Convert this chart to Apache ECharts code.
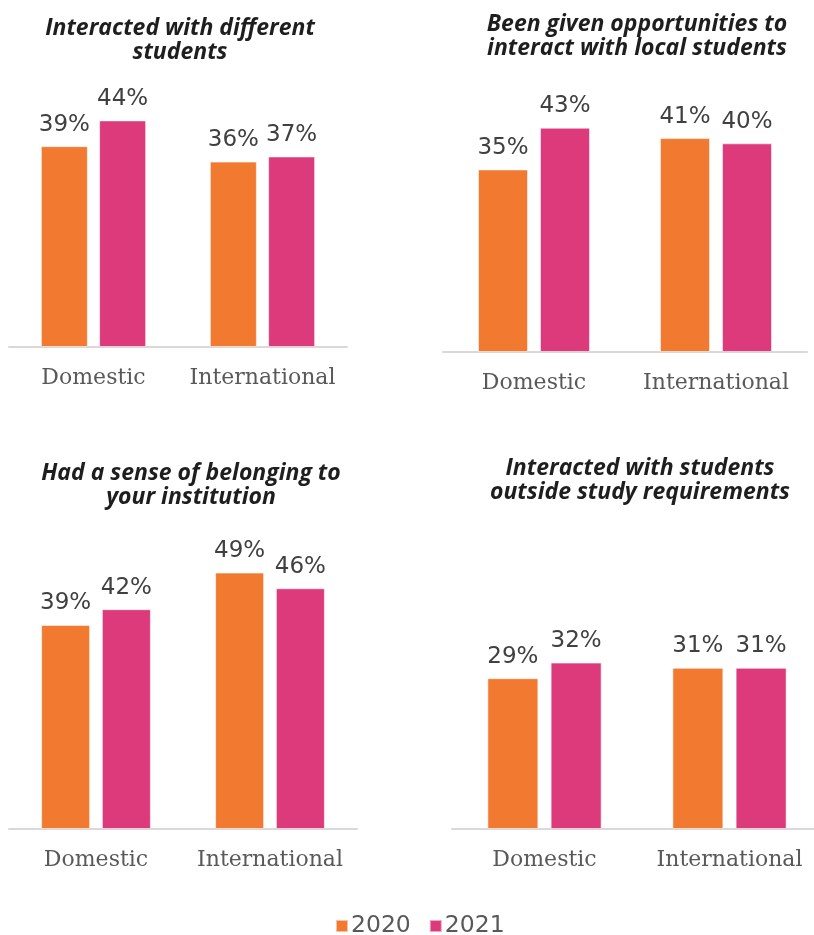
<!DOCTYPE html>
<html>
<head>
<meta charset="utf-8">
<script src="https://cdn.jsdelivr.net/npm/echarts@6/dist/echarts.min.js"></script>
<style>
html,body{margin:0;padding:0;background:#fff;overflow:hidden;}
#main{width:830px;height:935px;}
</style>
</head>
<body>
<div id="main"></div>
<script>
const categories = ['Domestic', 'International'];
const panelTitles = [
  'Interacted with different\nstudents',
  'Been given opportunities to\ninteract with local students',
  'Had a sense of belonging to\nyour institution',
  'Interacted with students\noutside study requirements'
];
const years = ['2020', '2021'];
const values2020 = [[39, 36], [35, 41], [39, 49], [29, 31]];
const values2021 = [[44, 37], [43, 40], [42, 46], [32, 31]];

const colors = ['#F27A30', '#DD3A7B'];
const layout = [
  { left: 9, right: 483, top: 38, bottom: 588, barW: 47, titleX: 175, titleY: 11 },
  { left: 443, right: 23, top: 39, bottom: 583, barW: 50, titleX: 632, titleY: 7 },
  { left: 9, right: 473, top: 515, bottom: 106, barW: 49, titleX: 186, titleY: 456 },
  { left: 452, right: 8, top: 517, bottom: 106, barW: 51, titleX: 635, titleY: 451 }
];

const grids = [], xAxes = [], yAxes = [], series = [], titles = [];
layout.forEach((L, i) => {
  grids.push({ left: L.left, right: L.right, top: L.top, bottom: L.bottom, containLabel: false });
  xAxes.push({
    type: 'category', gridIndex: i, data: categories,
    axisLine: { show: true, lineStyle: { color: '#D9D9D9', width: 2 } },
    axisTick: { show: false },
    axisLabel: { interval: 0, hideOverlap: false, color: '#595959', fontFamily: 'DejaVu Serif', fontSize: 22, margin: 20 }
  });
  yAxes.push({ type: 'value', gridIndex: i, min: 0, max: 60, show: false, splitLine: { show: false } });
  titles.push({
    text: panelTitles[i], left: L.titleX, top: L.titleY, textAlign: 'center',
    textStyle: { fontFamily: 'Open Sans', fontStyle: 'italic', fontWeight: 'bold', fontSize: 23, lineHeight: 24, color: '#1E1E1E' }
  });
  [values2020, values2021].forEach((vals, s) => {
    series.push({
      type: 'bar', name: years[s], xAxisIndex: i, yAxisIndex: i,
      data: vals[i], barWidth: L.barW, barGap: '24%',
      itemStyle: { color: colors[s], borderColor: 'rgba(255,255,255,0.55)', borderWidth: 1 },
      label: {
        show: true, position: 'top', distance: 10, formatter: '{c}%',
        fontFamily: 'DejaVu Sans', fontSize: 23, color: '#404040'
      },
      emphasis: { disabled: true }
    });
  });
});

const chart = echarts.init(document.getElementById('main'));
chart.setOption({
  animation: false,
  title: titles,
  legend: {
    data: years, left: 335, top: 914, padding: 0, icon: 'rect', itemWidth: 12, itemHeight: 12, itemGap: 18,
    textStyle: { fontFamily: 'DejaVu Sans', fontSize: 23.5, color: '#595959', padding: [0, 0, 0, -2] }
  },
  grid: grids, xAxis: xAxes, yAxis: yAxes, series: series
});
</script>
</body>
</html>
